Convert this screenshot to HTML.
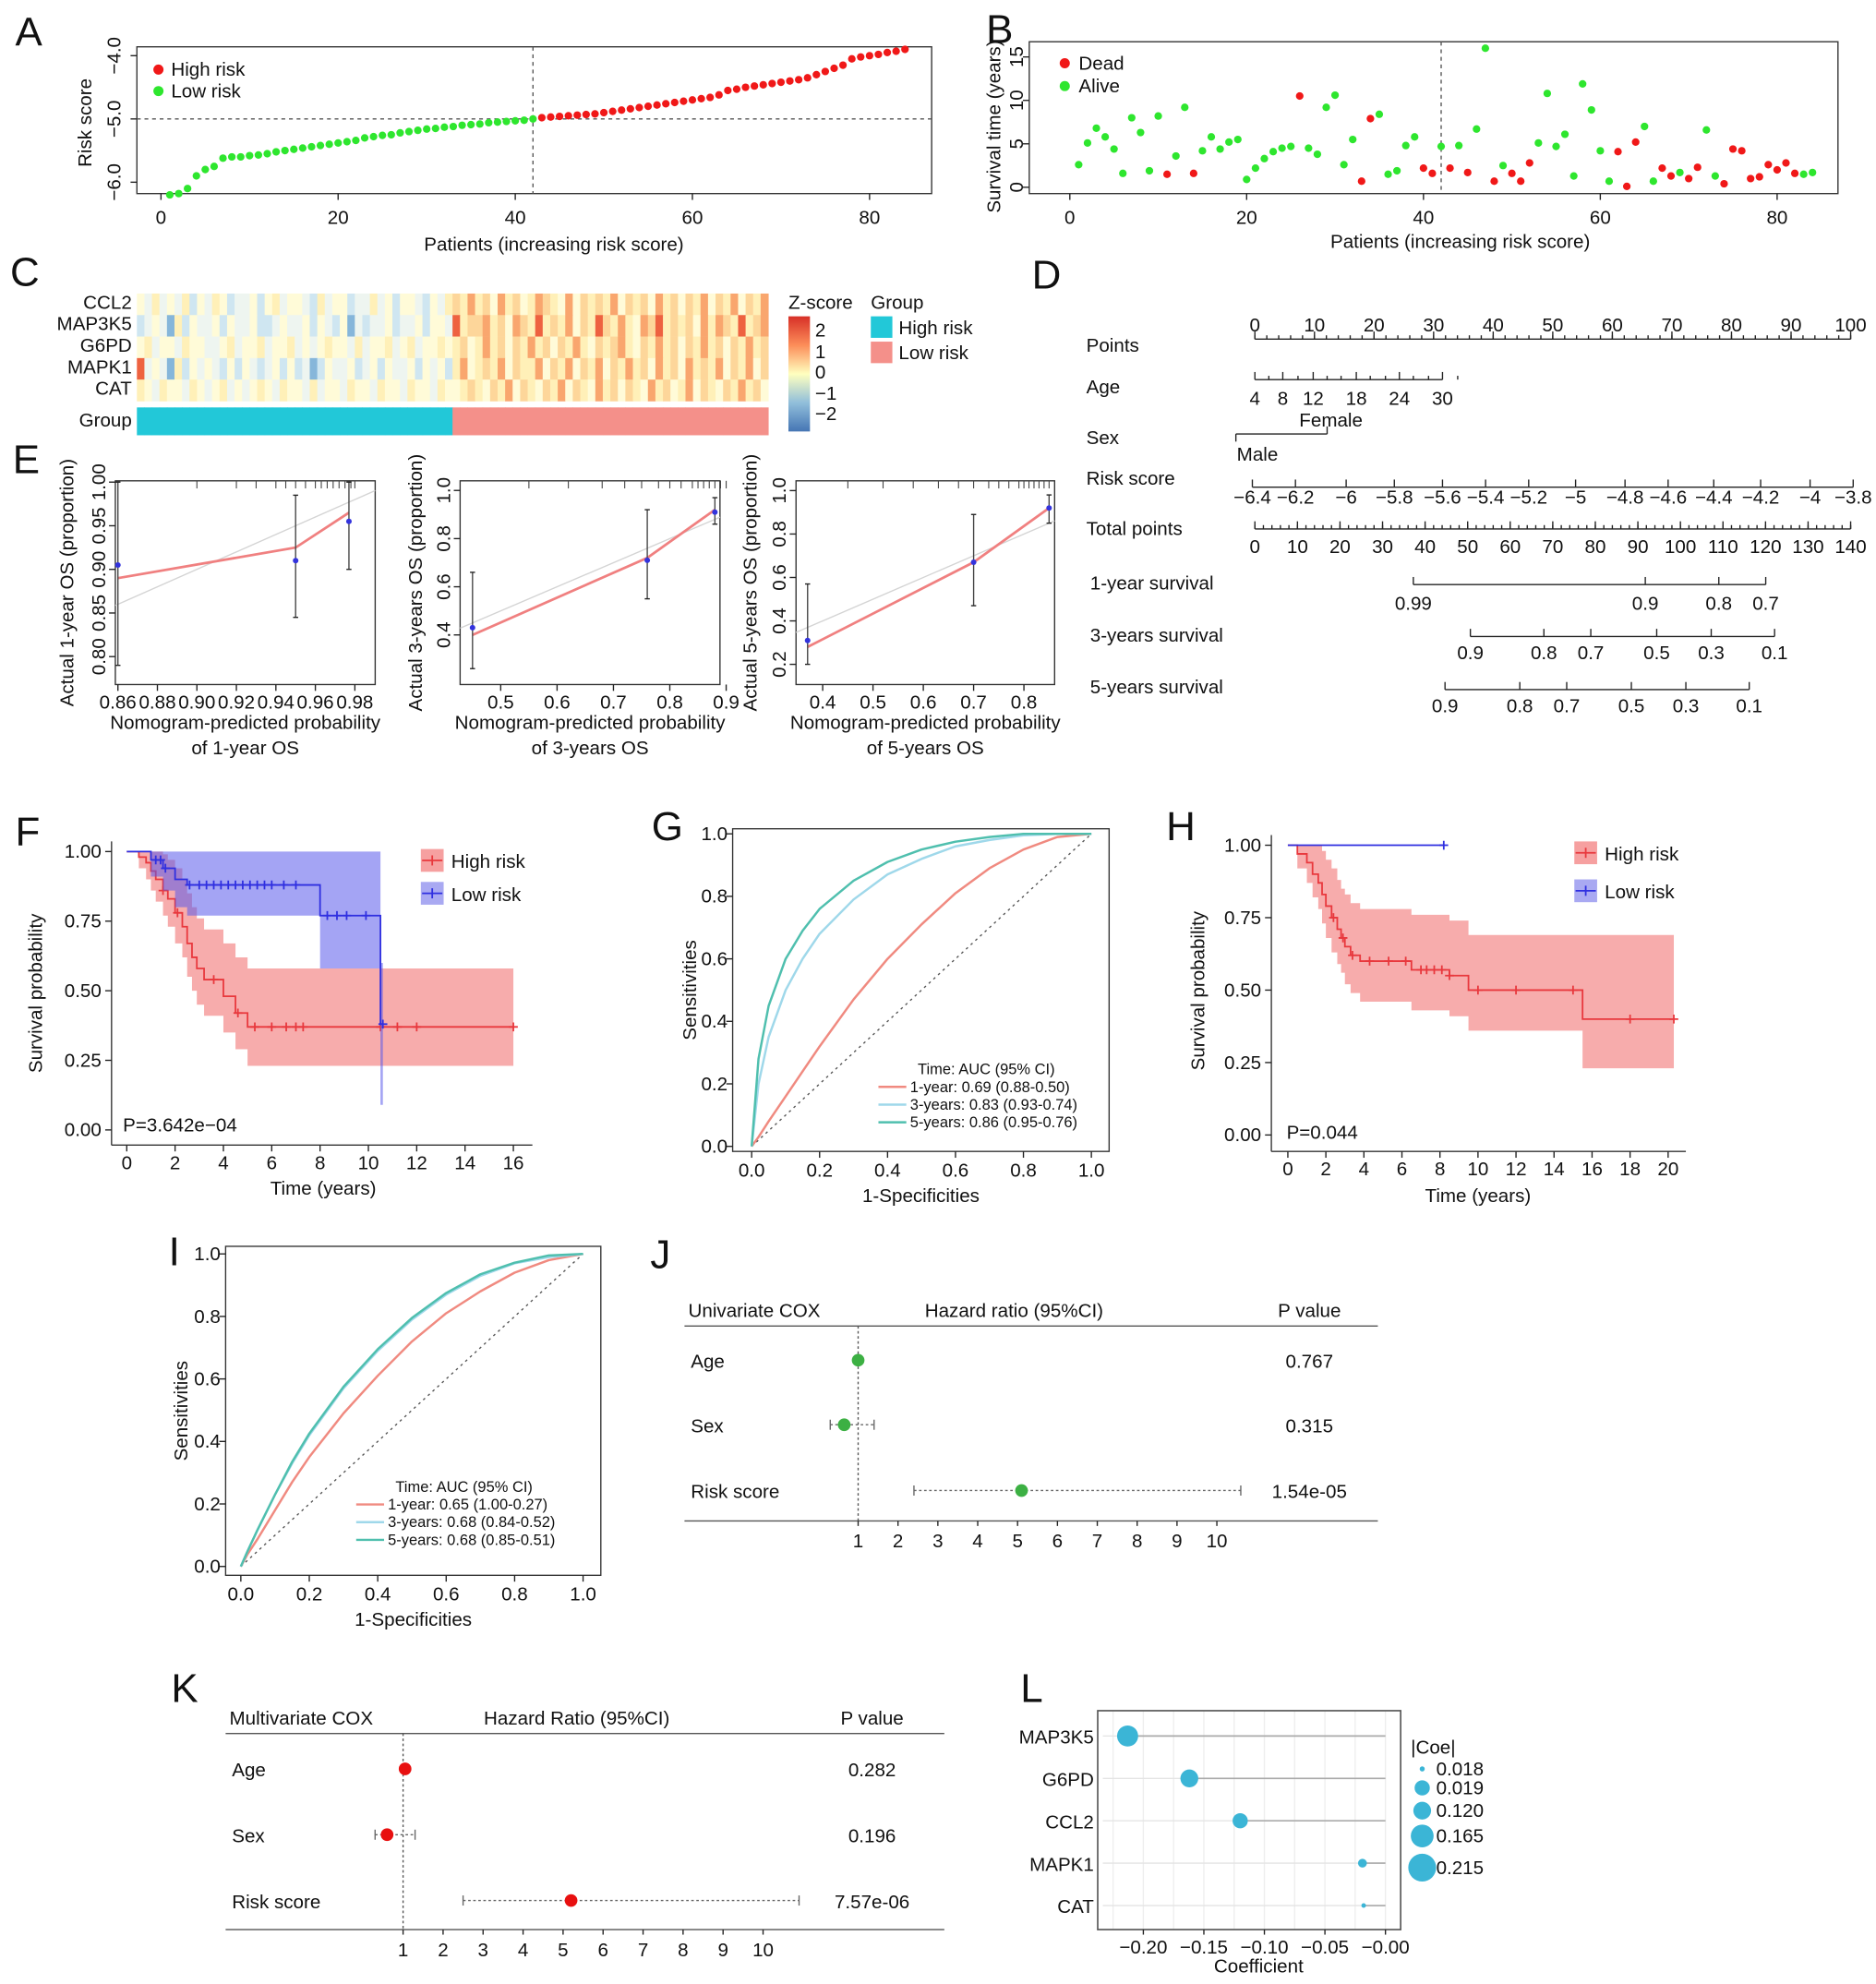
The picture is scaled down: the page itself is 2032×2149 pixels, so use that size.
<!DOCTYPE html>
<html><head><meta charset="utf-8"><style>
html,body{margin:0;padding:0;background:#fff;}
svg{display:block;font-family:"Liberation Sans",Arial,sans-serif;}
</style></head><body>
<svg id="fig" width="2032" height="2149" viewBox="0 0 1480 1568" preserveAspectRatio="none" xmlns="http://www.w3.org/2000/svg"></svg>
<script>
// ---------- DATA ----------
const aRisk=[-6.2,-6.18,-6.1,-5.9,-5.8,-5.75,-5.62,-5.6,-5.6,-5.58,-5.57,-5.55,-5.52,-5.5,-5.48,-5.46,-5.44,-5.42,-5.4,-5.38,-5.36,-5.34,-5.3,-5.28,-5.26,-5.25,-5.22,-5.2,-5.18,-5.16,-5.15,-5.13,-5.12,-5.1,-5.09,-5.08,-5.06,-5.05,-5.04,-5.03,-5.02,-5.0,
-4.98,-4.97,-4.96,-4.95,-4.94,-4.93,-4.92,-4.9,-4.88,-4.86,-4.84,-4.82,-4.8,-4.78,-4.76,-4.74,-4.72,-4.7,-4.68,-4.66,-4.62,-4.55,-4.53,-4.5,-4.48,-4.46,-4.44,-4.42,-4.4,-4.38,-4.35,-4.3,-4.25,-4.2,-4.15,-4.05,-4.02,-4.0,-3.98,-3.95,-3.93,-3.9];
const aCut=42;
const aTicksX=[0,20,40,60,80];
const aTicksY=[-4.0,-5.0,-6.0];
const bTime=[2.6,5.1,6.8,5.8,4.4,1.6,8.0,6.3,1.9,8.2,1.5,3.6,9.2,1.6,4.2,5.8,4.4,5.2,5.5,0.9,2.2,3.3,4.1,4.5,4.7,10.5,4.5,3.8,9.2,10.6,2.6,5.5,0.7,7.9,8.4,1.5,1.9,4.8,5.8,2.2,1.6,4.7,2.2,4.8,1.7,6.7,16.0,0.7,2.5,1.6,0.7,2.8,5.1,10.8,4.7,6.1,1.3,11.9,8.9,4.2,0.7,4.1,0.1,5.2,7.0,0.7,2.2,1.3,1.7,1.0,2.3,6.6,1.3,0.4,4.4,4.2,1.0,1.2,2.6,2.0,2.8,1.6,1.5,1.7];
const bDead=[0,0,0,0,0,0,0,0,0,0, 1,0,0,1,0,0,0,0,0,0, 0,0,0,0,0,1,0,0,0,0, 0,0,1,1,0,0,0,0,0,1, 1,0,1,0,1,0,0,1,0,1, 1,1,0,0,0,0,0,0,0,0, 0,1,1,1,0,0,1,1,0,1, 1,0,0,1,1,1,1,1,1,1, 1,1,0,0];
const bTicksY=[0,5,10,15];
const cGenes=["CCL2","MAP3K5","G6PD","MAPK1","CAT"];
const cRows=[
"4353435243"+"5423342453"+"4432534423"+"3534244324"+"35"+"6575647564"+"5765474656"+"5746564756"+"4657465746"+"57",
"2343152433"+"4243342234"+"3342432413"+"2334233424"+"43"+"8566756476"+"5856574658"+"6575476856"+"5647576585"+"67",
"4534435443"+"3453445344"+"5343454435"+"3445345344"+"54"+"5645756465"+"7564657546"+"5675465756"+"4657564657"+"56",
"8343152434"+"3242432342"+"4231243342"+"3424334243"+"42"+"5745657465"+"5746574657"+"4657564756"+"4756574657"+"46",
"5435443543"+"4534345435"+"4435344354"+"4354435443"+"54"+"4565465746"+"5465746547"+"5646547564"+"5746546575"+"64"];
const cGroupSplit=42;
const e1Pred=[0.86,0.95,0.977],e1Obs=[0.905,0.91,0.955],e1Lo=[0.79,0.845,0.9],e1Hi=[1.0,0.985,1.0],e1Fit=[0.89,0.925,0.965];
const e1Rug=[0.9,0.92,0.93,0.94,0.945,0.95,0.955,0.96,0.963,0.966,0.969,0.972,0.975,0.978,0.98];
const e2Pred=[0.45,0.76,0.88],e2Obs=[0.43,0.71,0.91],e2Lo=[0.26,0.55,0.86],e2Hi=[0.66,0.92,0.97],e2Fit=[0.40,0.72,0.92];
const e2Rug=[0.55,0.62,0.68,0.72,0.75,0.78,0.8,0.82,0.84,0.85,0.86,0.87,0.88,0.89,0.9];
const e3Pred=[0.37,0.70,0.85],e3Obs=[0.31,0.67,0.92],e3Lo=[0.2,0.47,0.85],e3Hi=[0.57,0.89,0.98],e3Fit=[0.28,0.67,0.92];
const e3Rug=[0.45,0.52,0.58,0.63,0.67,0.7,0.73,0.75,0.77,0.79,0.8,0.81,0.82,0.83,0.84,0.85];
const fHiT=[0,0.5,0.8,1.0,1.2,1.5,1.7,2.0,2.3,2.5,2.7,2.9,3.2,4.0,4.5,5.0];
const fHiS=[1,0.98,0.96,0.93,0.9,0.86,0.83,0.78,0.73,0.67,0.62,0.58,0.54,0.48,0.42,0.37];
const fHiU=[1,1,1,1,1,0.99,0.97,0.94,0.9,0.85,0.8,0.76,0.72,0.67,0.62,0.58];
const fHiL=[1,0.94,0.9,0.86,0.82,0.77,0.73,0.67,0.62,0.55,0.5,0.45,0.41,0.35,0.29,0.23];
const fHiEnd=16, fHiC=[1.5,2.1,3.6,4.6,5.3,6.0,6.6,7.0,7.3,10.5,11.2,12,16];
const fLoT=[0,1.0,1.5,2.0,2.5,8.0,10.5], fLoS=[1,0.97,0.94,0.9,0.88,0.77,0.38];
const fLoU=[1,1,1,1,1,1,0.6], fLoL=[1,0.91,0.86,0.8,0.77,0.58,0.09];
const fLoEnd=10.6, fLoC=[1.2,1.4,1.6,2.6,3.0,3.3,3.6,3.9,4.2,4.5,4.8,5.1,5.4,5.7,6.0,6.5,7.0,8.3,8.7,9.1,9.9,10.6];
const hHiT=[0,0.5,1,1.3,1.6,1.8,2.0,2.3,2.6,2.8,3.0,3.3,3.8,6.5,8.5,9.5,15.5];
const hHiS=[1,0.97,0.94,0.9,0.87,0.83,0.79,0.75,0.71,0.68,0.65,0.62,0.6,0.57,0.55,0.5,0.4];
const hHiU=[1,1,1,1,1,0.98,0.95,0.92,0.88,0.85,0.83,0.8,0.78,0.76,0.74,0.69,0.69];
const hHiL=[1,0.92,0.87,0.82,0.78,0.73,0.68,0.63,0.59,0.56,0.52,0.49,0.46,0.43,0.41,0.36,0.23];
const hHiEnd=20.3, hHiC=[2.4,2.9,3.4,4.3,5.3,6.2,7.0,7.3,7.7,8.1,8.5,10.0,12.0,15.0,18.0,20.3];
const hLoT=[0], hLoS=[1], hLoEnd=8.2, hLoC=[8.2];
const rocFpr=[0,0.02,0.05,0.1,0.15,0.2,0.3,0.4,0.5,0.6,0.7,0.8,0.9,1];
const g1=[0,0.03,0.08,0.16,0.24,0.32,0.47,0.6,0.71,0.81,0.89,0.95,0.99,1];
const g3=[0,0.2,0.35,0.5,0.6,0.68,0.79,0.87,0.92,0.96,0.98,0.995,1,1];
const g5=[0,0.28,0.45,0.6,0.69,0.76,0.85,0.91,0.95,0.975,0.99,1,1,1];
const i1=[0,0.04,0.09,0.18,0.27,0.35,0.49,0.61,0.72,0.81,0.88,0.94,0.98,1];
const i3=[0,0.05,0.12,0.23,0.33,0.42,0.57,0.69,0.79,0.87,0.93,0.97,0.99,1];
const i5=[0,0.05,0.12,0.23,0.335,0.425,0.575,0.695,0.795,0.875,0.935,0.972,0.995,1];
const gLegend=["1-year: 0.69 (0.88-0.50)","3-years: 0.83 (0.93-0.74)","5-years: 0.86 (0.95-0.76)"];
const iLegend=["1-year: 0.65 (1.00-0.27)","3-years: 0.68 (0.84-0.52)","5-years: 0.68 (0.85-0.51)"];
const jVars=["Age","Sex","Risk score"], jHR=[1.0,0.65,5.1], jLo=[0.97,0.3,2.4], jHi=[1.03,1.4,10.6], jP=["0.767","0.315","1.54e-05"];
const kVars=["Age","Sex","Risk score"], kHR=[1.05,0.6,5.2], kLo=[0.98,0.3,2.5], kHi=[1.1,1.3,10.9], kP=["0.282","0.196","7.57e-06"];
const lGenes=["MAP3K5","G6PD","CCL2","MAPK1","CAT"], lCoef=[-0.213,-0.162,-0.12,-0.019,-0.018];
const lLegend=["0.018","0.019","0.120","0.165","0.215"];

// ---------- HELPERS ----------
const NS='http://www.w3.org/2000/svg', svg=document.getElementById('fig');
function mk(tag,a,p){const e=document.createElementNS(NS,tag);for(const k in a)e.setAttribute(k,a[k]);(p||svg).appendChild(e);return e;}
function nm(e,n,i){return e;}
function grp(n){const g=mk('g',{});nm(g,n);return g;}
function tx(x,y,s,o,p){const e=mk('text',Object.assign({x:x,y:y,'font-size':15,'text-anchor':'middle',fill:'#111'},o||{}),p);e.textContent=s;return e;}
function ln(x1,y1,x2,y2,o,p){return mk('line',Object.assign({x1:x1,y1:y1,x2:x2,y2:y2,stroke:'#222','stroke-width':1},o||{}),p);}
function lin(d0,d1,r0,r1){return v=>r0+(v-d0)/(d1-d0)*(r1-r0);}
function rotTx(x,y,s,p,fs){return tx(x,y,s,{transform:`rotate(-90 ${x} ${y})`,'font-size':fs||15},p);}
function fmt(v,d){return (v<0?'\u2212':'')+Math.abs(v).toFixed(d);}

// panel letters
[["A",12,36],["B",778,34],["C",8,226],["D",814,228],["E",10,374],["F",12,668],["G",514,664],["H",920,664],["I",133,1000],["J",513,1002],["K",135,1345],["L",805,1345]].forEach(l=>{const t=tx(l[1],l[2],l[0],{'font-size':32,'text-anchor':'start'});nm(t,'panel-label-'+l[0].toLowerCase());});

// ---------- A ----------
(function(){const g=grp('panel-a-risk-score');
const X=lin(0,80,127,686),Y=lin(-4,-6,44,144);
nm(mk('rect',{x:108,y:37,width:627,height:116,fill:'none',stroke:'#333'},g),'plot-frame');
aTicksX.forEach(v=>{ln(X(v),153,X(v),158,{},g);tx(X(v),177,v,{},g);});
aTicksY.forEach(v=>{ln(103,Y(v),108,Y(v),{},g);rotTx(95,Y(v),fmt(v,1),g);});
nm(rotTx(72,97,'Risk score',g),'y-axis-title');
nm(tx(437,198,'Patients (increasing risk score)',{},g),'x-axis-title');
ln(X(aCut),37,X(aCut),153,{'stroke-dasharray':'3,3',stroke:'#555'},g);
ln(108,Y(aRisk[aCut-1]),735,Y(aRisk[aCut-1]),{'stroke-dasharray':'3,3',stroke:'#555'},g);
aRisk.forEach((v,i)=>{const c=mk('circle',{cx:X(i+1),cy:Y(v),r:3,fill:i>=aCut?'#f01818':'#2ee62e'},g);
});
mk('circle',{cx:125,cy:55,r:4,fill:'#f01818'},g);tx(135,60,'High risk',{'text-anchor':'start'},g);
mk('circle',{cx:125,cy:72,r:4,fill:'#2ee62e'},g);tx(135,77,'Low risk',{'text-anchor':'start'},g);
})();

// ---------- B ----------
(function(){const g=grp('panel-b-survival-time');
const X=lin(0,80,844,1402),Y=lin(0,15,148,45);
nm(mk('rect',{x:812,y:33,width:638,height:120,fill:'none',stroke:'#333'},g),'plot-frame');
aTicksX.forEach(v=>{ln(X(v),153,X(v),158,{},g);tx(X(v),177,v,{},g);});
bTicksY.forEach(v=>{ln(807,Y(v),812,Y(v),{},g);rotTx(807,Y(v),v,g);});
nm(rotTx(789,100,'Survival time (years)',g),'y-axis-title');
nm(tx(1152,196,'Patients (increasing risk score)',{},g),'x-axis-title');
ln(X(aCut),33,X(aCut),153,{'stroke-dasharray':'3,3',stroke:'#555'},g);
bTime.forEach((v,i)=>{const c=mk('circle',{cx:X(i+1),cy:Y(v),r:3,fill:bDead[i]?'#f01818':'#2ee62e'},g);
});
mk('circle',{cx:840,cy:50,r:4,fill:'#f01818'},g);tx(851,55,'Dead',{'text-anchor':'start'},g);
mk('circle',{cx:840,cy:68,r:4,fill:'#2ee62e'},g);tx(851,73,'Alive',{'text-anchor':'start'},g);
})();

// ---------- C ----------
(function(){const g=grp('panel-c-heatmap');
const pal=['#3f6fb0','#86b6da','#cfe6f1','#eef5f0','#fffbd8','#fff0b8','#fdd69a','#f9a66e','#ee6240','#d7301f'];
const n=cRows[0].length,x0=108,w=498/n,h=17;
cRows.forEach((r,ri)=>{for(let c=0;c<n;c++){const e=mk('rect',{x:x0+c*w,y:232+ri*h,width:w+0.4,height:h+0.2,fill:pal[+r[c]]},g);
}
tx(104,244+ri*h,cGenes[ri],{'text-anchor':'end'},g);});
for(let c=0;c<n;c++){mk('rect',{x:x0+c*w,y:322,width:w+0.4,height:22,fill:c<cGroupSplit?'#22c8d8':'#f4908a'},g);}
tx(104,337,'Group',{'text-anchor':'end'},g);
const df=mk('defs',{},g);const lg=mk('linearGradient',{id:'zg',x1:0,y1:0,x2:0,y2:1},df);
[['0','#d73027'],['0.25','#fc8d59'],['0.5','#ffffbf'],['0.75','#91bfdb'],['1','#4575b4']].forEach(s=>mk('stop',{offset:s[0],'stop-color':s[1]},lg));
nm(mk('rect',{x:622,y:250,width:17,height:91,fill:'url(#zg)'},g),'z-score-colorbar');
tx(622,244,'Z-score',{'text-anchor':'start'},g);
[['2',266],['1',283],['0',299],['\u22121',316],['\u22122',332]].forEach(t=>tx(643,t[1],t[0],{'text-anchor':'start'},g));
tx(687,244,'Group',{'text-anchor':'start'},g);
mk('rect',{x:687,y:250,width:17,height:17,fill:'#22c8d8'},g);tx(709,264,'High risk',{'text-anchor':'start'},g);
mk('rect',{x:687,y:270,width:17,height:17,fill:'#f4908a'},g);tx(709,284,'Low risk',{'text-anchor':'start'},g);
})();

// ---------- D nomogram ----------
(function(){const g=grp('panel-d-nomogram');
function axis(y,ticks,labY,minor){ln(ticks[0][1],y,ticks[ticks.length-1][1],y,{},g);
ticks.forEach(t=>{ln(t[1],y,t[1],y-6,{},g);tx(t[1],labY,t[0],{},g);});
if(minor)for(let i=0;i<minor.length;i++)ln(minor[i],y,minor[i],y-3,{},g);}
[['Points',278],['Age',311],['Sex',351],['Risk score',383],['Total points',423]].forEach(l=>tx(857,l[1],l[0],{'text-anchor':'start'},g));
[['1-year survival',466],['3-years survival',507],['5-years survival',548]].forEach(l=>tx(860,l[1],l[0],{'text-anchor':'start'},g));
const P=lin(0,100,990,1460),pt=[],pm=[];for(let v=0;v<=100;v+=10)pt.push([v,P(v)]);for(let v=0;v<=100;v+=2)pm.push(P(v));
axis(268,pt,262,pm);
axis(300,[[4,990],[8,1012],[12,1036],[18,1070],[24,1104],[30,1138]],320,[1001,1024,1047,1058,1081,1093,1115,1127,1150]);
ln(975,343,1047,343,{},g);ln(975,343,975,349,{},g);ln(1047,343,1047,337,{},g);
tx(1050,337,'Female',{},g);tx(992,364,'Male',{},g);
axis(385,[['\u22126.4',988],['\u22126.2',1022],['\u22126',1062],['\u22125.8',1100],['\u22125.6',1138],['\u22125.4',1172],['\u22125.2',1206],['\u22125',1243],['\u22124.8',1282],['\u22124.6',1316],['\u22124.4',1352],['\u22124.2',1389],['\u22124',1428],['\u22123.8',1462]],398);
const T=lin(0,140,990,1460),tt=[],tm=[];for(let v=0;v<=140;v+=10)tt.push([v,T(v)]);for(let v=0;v<=140;v+=2)tm.push(T(v));
axis(418,tt,437,tm);
axis(462,[['0.99',1115],['0.9',1298],['0.8',1356],['0.7',1393]],482);
axis(503,[['0.9',1160],['0.8',1218],['0.7',1255],['0.5',1307],['0.3',1350],['0.1',1400]],521);
axis(545,[['0.9',1140],['0.8',1199],['0.7',1236],['0.5',1287],['0.3',1330],['0.1',1380]],563);
})();

// ---------- E calibration ----------
function calib(name,bx,dx,dy,ticksX,ticksY,dX,dY,pred,obs,lo,hi,fit,rug,yTitle,xT2,yTitleX){
const g=grp(name);const X=lin(dx[0],dx[1],bx[0],bx[2]),Y=lin(dy[0],dy[1],bx[3],bx[1]);
nm(mk('rect',{x:bx[0],y:bx[1],width:bx[2]-bx[0],height:bx[3]-bx[1],fill:'none',stroke:'#333'},g),'plot-frame');
ticksX.forEach(v=>{ln(X(v),bx[3],X(v),bx[3]+5,{},g);tx(X(v),bx[3]+19,v.toFixed(dX),{},g);});
ticksY.forEach(v=>{ln(bx[0]-5,Y(v),bx[0],Y(v),{},g);rotTx(bx[0]-8,Y(v),v.toFixed(dY),g);});
const a=Math.max(dx[0],dy[0]),b=Math.min(dx[1],dy[1]);
ln(X(a),Y(a),X(b),Y(b),{stroke:'#d4d4d4'},g);
rug.forEach(v=>ln(X(v),bx[1],X(v),bx[1]+6,{stroke:'#444','stroke-width':0.8},g));
let d='';pred.forEach((v,i)=>{d+=(i?'L':'M')+X(v)+','+Y(fit[i]);});
nm(mk('path',{d:d,fill:'none',stroke:'#f08080','stroke-width':2},g),'calibration-line');
pred.forEach((v,i)=>{ln(X(v),Y(lo[i]),X(v),Y(hi[i]),{stroke:'#444'},g);ln(X(v)-2,Y(lo[i]),X(v)+2,Y(lo[i]),{},g);ln(X(v)-2,Y(hi[i]),X(v)+2,Y(hi[i]),{},g);
const c=mk('circle',{cx:X(v),cy:Y(obs[i]),r:2.2,fill:'#3333dd'},g);});
const cx=(bx[0]+bx[2])/2;tx(cx,bx[3]+35,'Nomogram-predicted probability',{},g);tx(cx,bx[3]+55,xT2,{},g);
nm(rotTx(yTitleX,(bx[1]+bx[3])/2,yTitle,g),'y-axis-title');}
calib('panel-e-1-year',[91,380,296,541],[0.8587,0.9903],[0.768,1.0015],[0.86,0.88,0.90,0.92,0.94,0.96,0.98],[0.80,0.85,0.90,0.95,1.0],2,2,e1Pred,e1Obs,e1Lo,e1Hi,e1Fit,e1Rug,'Actual 1-year OS (proportion)','of 1-year OS',58);
calib('panel-e-3-years',[363,380,568,541],[0.428,0.889],[0.194,1.04],[0.5,0.6,0.7,0.8,0.9],[0.4,0.6,0.8,1.0],1,1,e2Pred,e2Obs,e2Lo,e2Hi,e2Fit,e2Rug,'Actual 3-years OS (proportion)','of 3-years OS',333);
calib('panel-e-5-years',[628,380,832,541],[0.347,0.861],[0.107,1.045],[0.4,0.5,0.6,0.7,0.8],[0.2,0.4,0.6,0.8,1.0],1,1,e3Pred,e3Obs,e3Lo,e3Hi,e3Fit,e3Rug,'Actual 5-years OS (proportion)','of 5-years OS',597);

// ---------- KM ----------
function stepVal(ts,ss,t){let v=ss[0];for(let i=0;i<ts.length;i++)if(ts[i]<=t)v=ss[i];return v;}
function stepPath(ts,ss,end,X,Y){let d='M'+X(ts[0])+','+Y(ss[0]);for(let i=1;i<ts.length;i++)d+='H'+X(ts[i])+'V'+Y(ss[i]);return d+'H'+X(end);}
function band(ts,up,lo,end,X,Y){const p=[],q=[];for(let i=0;i<ts.length;i++){const x0=X(ts[i]),x1=X(i+1<ts.length?ts[i+1]:end);p.push(x0+','+Y(up[i]),x1+','+Y(up[i]));q.unshift(x0+','+Y(lo[i]));q.unshift(x1+','+Y(lo[i]));}return p.concat(q).join(' ');}
function km(name,cfg){const g=grp(name);const X=cfg.X,Y=cfg.Y;
ln(cfg.ax,cfg.yTop-8,cfg.ax,cfg.ay,{stroke:'#333'},g);ln(cfg.ax,cfg.ay,cfg.axEnd,cfg.ay,{stroke:'#333'},g);
cfg.xt.forEach(v=>{ln(X(v),cfg.ay,X(v),cfg.ay+5,{},g);tx(X(v),cfg.ay+19,v,{},g);});
[0,0.25,0.5,0.75,1].forEach(v=>{ln(cfg.ax-5,Y(v),cfg.ax,Y(v),{},g);tx(cfg.ax-8,Y(v)+5,v.toFixed(2),{'text-anchor':'end'},g);});
cfg.series.forEach(s=>{if(s.U)nm(mk('polygon',{points:band(s.T,s.U,s.L,s.end,X,Y),fill:s.fill},g),s.n+'-ci-band');
nm(mk('path',{d:stepPath(s.T,s.S,s.end,X,Y),fill:'none',stroke:s.col,'stroke-width':1.3},g),s.n+'-curve');
s.C.forEach(t=>{const y=Y(stepVal(s.T,s.S,t)),x=X(t);const e=mk('path',{d:`M${x-3.5},${y}H${x+3.5}M${x},${y-3.5}V${y+3.5}`,stroke:s.col,'stroke-width':1.3},g);
});});
nm(rotTx(cfg.ytx,cfg.yty,'Survival probability',g),'y-axis-title');
nm(tx(cfg.xtx,cfg.xty,'Time (years)',{},g),'x-axis-title');
tx(cfg.px,cfg.py,cfg.p,{'text-anchor':'start'},g);
cfg.leg.forEach((l,i)=>{const y=cfg.ly+i*cfg.lh;const r=mk('rect',{x:cfg.lx,y:y,width:18,height:18,fill:l[1]},g);nm(r,'legend-key',true);
ln(cfg.lx+1,y+9,cfg.lx+17,y+9,{stroke:l[2],'stroke-width':1.3},g);ln(cfg.lx+9,y+5,cfg.lx+9,y+13,{stroke:l[2],'stroke-width':1.3},g);
tx(cfg.lx+24,y+15,l[0],{'text-anchor':'start'},g);});}
km('panel-f-km-training',{X:lin(0,16,100,405),Y:lin(0,1,893,673),ax:88,ay:905,axEnd:420,yTop:673,xt:[0,2,4,6,8,10,12,14,16],
series:[{n:'high-risk',T:fHiT,S:fHiS,U:fHiU,L:fHiL,end:fHiEnd,C:fHiC,col:'#e8383d',fill:'rgba(240,90,90,0.5)'},
{n:'low-risk',T:fLoT,S:fLoS,U:fLoU,L:fLoL,end:fLoEnd,C:fLoC,col:'#2f2fe0',fill:'rgba(90,90,235,0.55)'}],
ytx:33,yty:785,xtx:255,xty:944,px:97,py:894,p:'P=3.642e\u221204',lx:332,ly:671,lh:26,leg:[['High risk','#f6a0a0','#e8383d'],['Low risk','#a9a9f2','#2f2fe0']]});
km('panel-h-km-validation',{X:lin(0,20,1016,1316),Y:lin(0,1,897,668),ax:1003,ay:910,axEnd:1330,yTop:668,xt:[0,2,4,6,8,10,12,14,16,18,20],
series:[{n:'high-risk',T:hHiT,S:hHiS,U:hHiU,L:hHiL,end:hHiEnd,C:hHiC,col:'#e8383d',fill:'rgba(240,90,90,0.5)'},
{n:'low-risk',T:hLoT,S:hLoS,end:hLoEnd,C:hLoC,col:'#2f2fe0'}],
ytx:950,yty:783,xtx:1166,xty:950,px:1015,py:900,p:'P=0.044',lx:1242,ly:665,lh:30,leg:[['High risk','#f6a0a0','#e8383d'],['Low risk','#a9a9f2','#2f2fe0']]});

// ---------- ROC ----------
function roc(name,bx,X,Y,curves,legend,lg){const g=grp(name);
nm(mk('rect',{x:bx[0],y:bx[1],width:bx[2]-bx[0],height:bx[3]-bx[1],fill:'none',stroke:'#333'},g),'plot-frame');
[0,0.2,0.4,0.6,0.8,1].forEach(v=>{ln(X(v),bx[3],X(v),bx[3]+5,{},g);tx(X(v),bx[3]+20,v.toFixed(1),{},g);
ln(bx[0]-5,Y(v),bx[0],Y(v),{},g);tx(bx[0]-4,Y(v)+5,v.toFixed(1),{'text-anchor':'end'},g);});
ln(X(0),Y(0),X(1),Y(1),{stroke:'#555','stroke-dasharray':'2,3'},g);
const cols=['#f08a80','#9fd8ea','#4fbfae'];
curves.forEach((c,ci)=>{let d='';rocFpr.forEach((f,i)=>{d+=(i?'L':'M')+X(f).toFixed(1)+','+Y(c[i]).toFixed(1);});
nm(mk('path',{d:d,fill:'none',stroke:cols[ci],'stroke-width':1.8,'stroke-linejoin':'round'},g),'roc-curve-'+(ci+1));});
tx(lg[0]+6,lg[1],'Time: AUC (95% CI)',{'font-size':12,'text-anchor':'start'},g);
legend.forEach((l,i)=>{const y=lg[1]+14*(i+1);ln(lg[0]-25,y-4,lg[0]-3,y-4,{stroke:cols[i],'stroke-width':1.8},g);tx(lg[0],y,l,{'font-size':12,'text-anchor':'start'},g);});
nm(rotTx(lg[2],(bx[1]+bx[3])/2,'Sensitivities',g),'y-axis-title');
nm(tx((bx[0]+bx[2])/2,bx[3]+40,'1-Specificities',{},g),'x-axis-title');}
roc('panel-g-roc-training',[578,655,875,910],lin(0,1,593,861),lin(0,1,906,659),[g1,g3,g5],gLegend,[718,849,549]);
roc('panel-i-roc-validation',[178,985,474,1245],lin(0,1,190,460),lin(0,1,1238,991),[i1,i3,i5],iLegend,[306,1179,148]);

// ---------- Forest ----------
function forest(name,hdr,x0,x1,yTop,yBot,X,vars,hr,lo,hi,p,col,ys,hx,px){const g=grp(name);
tx(x0+3,yTop-7,hdr[0],{'text-anchor':'start'},g);tx(hx,yTop-7,hdr[1],{},g);tx(px,yTop-7,hdr[2],{},g);
ln(x0,yTop,x1,yTop,{stroke:'#555'},g);ln(x0,yBot,x1,yBot,{stroke:'#555'},g);
ln(X(1),yTop,X(1),yBot,{stroke:'#555','stroke-dasharray':'2,2'},g);
for(let v=1;v<=10;v++){ln(X(v),yBot,X(v),yBot+4,{},g);tx(X(v),yBot+21,v,{},g);}
vars.forEach((n,i)=>{const y=ys[i];tx(x0+5,y+6,n,{'text-anchor':'start'},g);tx(px,y+6,p[i],{},g);
ln(X(lo[i]),y,X(hi[i]),y,{stroke:'#666','stroke-dasharray':'2,2'},g);
ln(X(lo[i]),y-4,X(lo[i]),y+4,{stroke:'#666'},g);ln(X(hi[i]),y-4,X(hi[i]),y+4,{stroke:'#666'},g);
const c=mk('circle',{cx:X(hr[i]),cy:y,r:5,fill:col},g);});}
forest('panel-j-univariate-cox',['Univariate COX','Hazard ratio (95%CI)','P value'],540,1087,1048,1202,lin(1,10,677,960),jVars,jHR,jLo,jHi,jP,'#3cb043',[1075,1126,1178],800,1033);
forest('panel-k-multivariate-cox',['Multivariate COX','Hazard Ratio (95%CI)','P value'],178,745,1370,1525,lin(1,10,318,602),kVars,kHR,kLo,kHi,kP,'#e81010',[1398,1450,1502],455,688);

// ---------- L ----------
(function(){const g=grp('panel-l-coefficients');const X=lin(-0.2,0,902,1093);
for(let v=-0.225;v<0.01;v+=0.025)ln(X(v),1352,X(v),1525,{stroke:'#eee'},g);
nm(mk('rect',{x:866,y:1352,width:239,height:173,fill:'none',stroke:'#555','stroke-width':1.2},g),'plot-frame');
const R=c=>3+Math.abs(c)*25;
lGenes.forEach((n,i)=>{const y=1372+i*33.5;ln(870,y,1093,y,{stroke:'#e4e4e4'},g);ln(X(lCoef[i]),y,X(0),y,{stroke:'#aaa','stroke-width':1.2},g);
const c=mk('circle',{cx:X(lCoef[i]),cy:y,r:n==='CAT'?1.8:R(lCoef[i]),fill:'#3bb5d6'},g);
tx(863,y+6,n,{'text-anchor':'end'},g);});
[-0.2,-0.15,-0.1,-0.05,0].forEach(v=>{ln(X(v),1525,X(v),1529,{},g);tx(X(v),1544,fmt(v===0?-0:v,2).replace(/^0/,'\u22120'),{},g);});
nm(tx(993,1559,'Coefficient',{},g),'x-axis-title');
tx(1113,1386,'|Coe|',{'text-anchor':'start'},g);
const lr=[2,6,7,9,11],ly=[1398,1413,1431,1451,1476];
lLegend.forEach((l,i)=>{mk('circle',{cx:1122,cy:ly[i],r:lr[i],fill:'#3bb5d6'},g);tx(1133,ly[i]+5,l,{'text-anchor':'start'},g);});
})();
</script>
</body></html>
